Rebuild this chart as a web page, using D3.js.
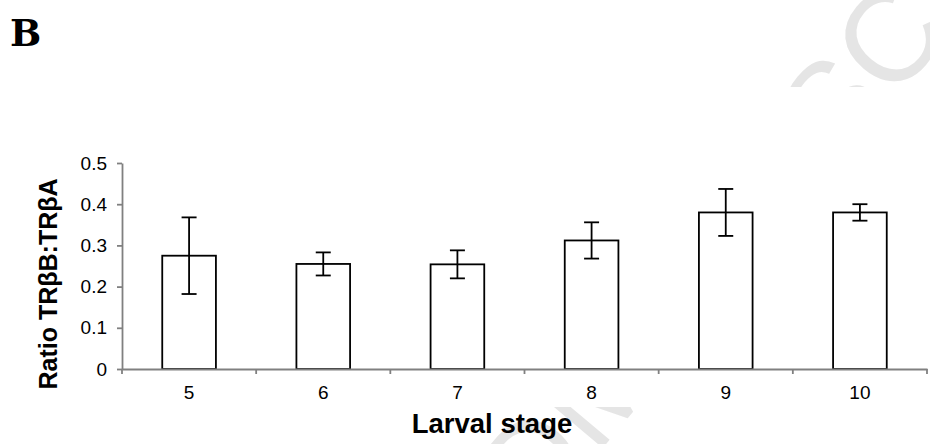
<!DOCTYPE html>
<html>
<head>
<meta charset="utf-8">
<script src="https://cdn.jsdelivr.net/npm/d3@7"></script>
<style>
  body { margin: 0; background: #fff; }
  svg { display: block; }
</style>
</head>
<body>
<svg id="chart" width="930" height="444"></svg>
<script>
// Data
let stages = ['5', '6', '7', '8', '9', '10'];
let ratios = [0.275, 0.255, 0.254, 0.312, 0.380, 0.380];
let errors = [0.093, 0.028, 0.034, 0.044, 0.057, 0.020];
let y_ticks = [0, 0.1, 0.2, 0.3, 0.4, 0.5];

let WIDTH = 930;
let HEIGHT = 444;
let LEFT = 122, RIGHT = 927, TOP = 163, BOTTOM = 369;

let svg = d3.select('#chart');

// faint diagonal watermark, only visible outside the pasted chart area
let clip = svg.append('defs').append('clipPath').attr('id', 'wm_clip');
clip.append('rect').attr('x', 0).attr('y', 0).attr('width', WIDTH).attr('height', 87);
clip.append('rect').attr('x', 0).attr('y', 407).attr('width', WIDTH).attr('height', HEIGHT - 407);

svg.append('g')
    .attr('clip-path', 'url(#wm_clip)')
    .append('text')
    .attr('transform', 'translate(596,456) rotate(-50)')
    .attr('font-family', 'Liberation Sans, Arial, sans-serif')
    .attr('font-size', 128)
    .attr('fill', '#e5e5e5')
    .attr('text-anchor', 'end')
    .text('ACCEPTED ')
    .clone(true)
    .attr('text-anchor', 'start')
    .text('MANUSCRIPT');

// panel letter
svg.append('text')
    .attr('x', 10)
    .attr('y', 46)
    .attr('font-family', 'DejaVu Serif, serif')
    .attr('font-weight', 'bold')
    .attr('font-size', 37)
    .text('B');

// scales
let xScale = d3.scaleBand()
    .domain(stages)
    .range([LEFT, RIGHT])
    .padding(0);

let yScale = d3.scaleLinear()
    .domain([0, 0.5])
    .range([BOTTOM, TOP]);

let data = stages.map((s, i) => ({stage: s, value: ratios[i], err: errors[i]}));
let barW = xScale.bandwidth() * 0.4;
let capW = 15;

// bars
svg.append('g')
    .selectAll('rect')
    .data(data)
    .join('rect')
    .attr('x', d => xScale(d.stage) + (xScale.bandwidth() - barW) / 2)
    .attr('y', d => yScale(d.value))
    .attr('width', barW)
    .attr('height', d => yScale(0) - yScale(d.value))
    .attr('fill', '#fff')
    .attr('stroke', '#000')
    .attr('stroke-width', 1.8);

// error bars
let eb = svg.append('g')
    .attr('stroke', '#000')
    .attr('stroke-width', 1.8)
    .selectAll('g')
    .data(data)
    .join('g')
    .attr('transform', d => `translate(${xScale(d.stage) + xScale.bandwidth() / 2},0)`);

eb.append('line')
    .attr('y1', d => yScale(d.value + d.err))
    .attr('y2', d => yScale(d.value - d.err));
eb.append('line')
    .attr('x1', -capW / 2).attr('x2', capW / 2)
    .attr('y1', d => yScale(d.value + d.err))
    .attr('y2', d => yScale(d.value + d.err));
eb.append('line')
    .attr('x1', -capW / 2).attr('x2', capW / 2)
    .attr('y1', d => yScale(d.value - d.err))
    .attr('y2', d => yScale(d.value - d.err));

// y axis
let yAxis = svg.append('g')
    .attr('transform', `translate(${LEFT},0)`)
    .call(d3.axisLeft(yScale)
        .tickValues(y_ticks)
        .tickFormat(d => d === 0 ? '0' : d3.format('.1f')(d))
        .tickSize(5)
        .tickSizeOuter(0)
        .tickPadding(10));

// x axis (labels at centres, ticks on category boundaries)
let xAxis = svg.append('g')
    .attr('transform', `translate(0,${BOTTOM})`)
    .call(d3.axisBottom(xScale)
        .tickSize(0)
        .tickSizeOuter(0)
        .tickPadding(17));

let bounds = stages.map(s => xScale(s)).concat([xScale(stages[stages.length - 1]) + xScale.bandwidth()]);
xAxis.selectAll('.bound')
    .data(bounds)
    .join('line')
    .attr('class', 'bound')
    .attr('x1', d => d).attr('x2', d => d)
    .attr('y1', 0).attr('y2', 5);

[yAxis, xAxis].forEach(a => {
    a.selectAll('path, line').attr('stroke', '#808080').attr('stroke-width', 1.8);
    a.selectAll('text')
        .attr('font-family', 'Liberation Sans, Arial, sans-serif')
        .attr('font-size', 19)
        .attr('fill', '#000');
});

// axis titles
svg.append('text')
    .attr('x', 492)
    .attr('y', 433)
    .attr('text-anchor', 'middle')
    .attr('font-family', 'Liberation Sans, Arial, sans-serif')
    .attr('font-weight', 'bold')
    .attr('font-size', 27.5)
    .text('Larval stage');

svg.append('text')
    .attr('transform', 'translate(48,284) rotate(-90)')
    .attr('dy', '0.35em')
    .attr('text-anchor', 'middle')
    .attr('font-family', 'Liberation Sans, Arial, sans-serif')
    .attr('font-weight', 'bold')
    .attr('font-size', 25)
    .text('Ratio TRβB:TRβA');
</script>
</body>
</html>
